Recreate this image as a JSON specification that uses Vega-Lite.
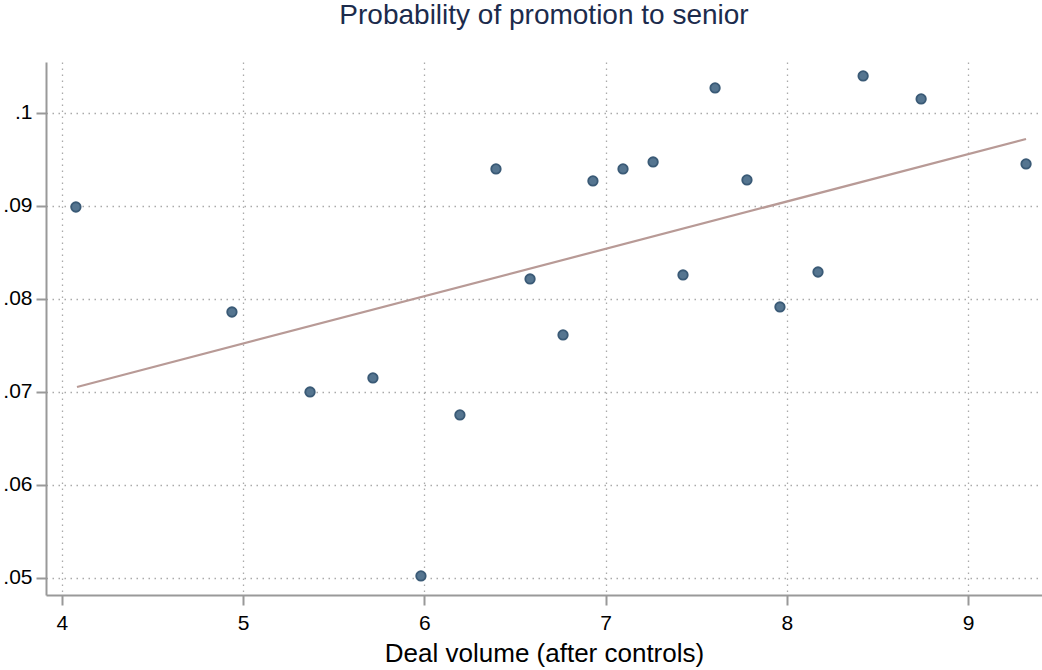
{
  "$schema": "https://vega.github.io/schema/vega-lite/v6.json",
  "width": 996,
  "height": 533,
  "autosize": "none",
  "padding": {"left": 46, "top": 62, "right": 0, "bottom": 75},
  "background": "white",
  "config": {
    "view": {"stroke": null},
    "font": "Liberation Sans"
  },
  "title": {
    "text": "Probability of promotion to senior",
    "fontSize": 28,
    "fontWeight": "normal",
    "color": "#1c2b4c",
    "font": "Liberation Sans",
    "offset": 32,
    "anchor": "middle"
  },
  "datasets": {
    "pts": [
      {"x": 4.077, "y": 0.08989},
      {"x": 4.938, "y": 0.07860},
      {"x": 5.369, "y": 0.07000},
      {"x": 5.716, "y": 0.07151},
      {"x": 5.981, "y": 0.05022},
      {"x": 6.196, "y": 0.06753},
      {"x": 6.395, "y": 0.09398},
      {"x": 6.583, "y": 0.08215},
      {"x": 6.765, "y": 0.07613},
      {"x": 6.930, "y": 0.09269},
      {"x": 7.096, "y": 0.09398},
      {"x": 7.262, "y": 0.09473},
      {"x": 7.427, "y": 0.08258},
      {"x": 7.604, "y": 0.10269},
      {"x": 7.780, "y": 0.09280},
      {"x": 7.962, "y": 0.07914},
      {"x": 8.172, "y": 0.08290},
      {"x": 8.421, "y": 0.10398},
      {"x": 8.741, "y": 0.10151},
      {"x": 9.320, "y": 0.09452}
    ],
    "fit": [
      {"x": 4.083, "y": 0.07054},
      {"x": 9.320, "y": 0.09720}
    ]
  },
  "layer": [
    {
      "data": {"name": "fit"},
      "mark": {"type": "line", "color": "#b89a96", "strokeWidth": 2.2},
      "encoding": {
        "x": {
          "field": "x", "type": "quantitative",
          "scale": {"domain": [3.912, 9.408], "nice": false, "zero": false},
          "axis": {
            "values": [4, 5, 6, 7, 8, 9],
            "format": "d",
            "title": "Deal volume (after controls)",
            "titleFontSize": 26,
            "titleFontWeight": "normal",
            "titleColor": "#000000",
            "titlePadding": 7,
            "labelFontSize": 21,
            "labelColor": "#000000",
            "labelPadding": 7,
            "tickSize": 10,
            "tickColor": "#999999",
            "tickWidth": 2,
            "domainColor": "#999999",
            "domainWidth": 2,
            "grid": true,
            "gridColor": "#aaaaaa",
            "gridDash": [1.5, 4.5],
            "gridWidth": 1.3
          }
        },
        "y": {
          "field": "y", "type": "quantitative",
          "scale": {"domain": [0.04817, 0.10548], "nice": false, "zero": false},
          "axis": {
            "values": [0.05, 0.06, 0.07, 0.08, 0.09, 0.1],
            "labelExpr": "substring(format(datum.value, '.2~f'), 1)",
            "title": null,
            "labelFontSize": 21,
            "labelColor": "#000000",
            "labelPadding": 4,
            "tickSize": 10,
            "tickColor": "#999999",
            "tickWidth": 2,
            "domainColor": "#999999",
            "domainWidth": 2,
            "grid": true,
            "gridColor": "#aaaaaa",
            "gridDash": [1.5, 4.5],
            "gridWidth": 1.3
          }
        }
      }
    },
    {
      "data": {"name": "pts"},
      "mark": {"type": "point", "filled": false, "shape": "circle", "size": 90, "fill": "#557590", "stroke": "#3a5a76", "strokeWidth": 1.8, "opacity": 1, "fillOpacity": 1},
      "encoding": {
        "x": {"field": "x", "type": "quantitative"},
        "y": {"field": "y", "type": "quantitative"}
      }
    }
  ]
}
